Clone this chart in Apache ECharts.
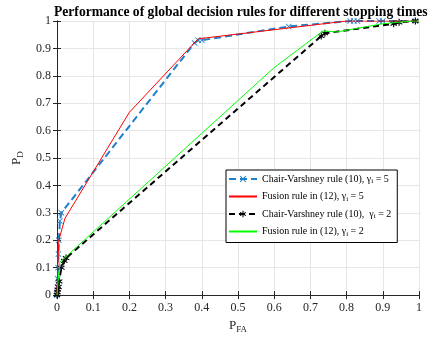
<!DOCTYPE html>
<html>
<head>
<meta charset="utf-8">
<script src="https://cdn.jsdelivr.net/npm/echarts@6/dist/echarts.min.js"></script>
<style>html,body{margin:0;padding:0;background:#fff}#c{width:430px;height:339px}</style>
</head>
<body>
<div id="c"></div>
<script>
var titleText = 'Performance of global decision rules for different stopping times';
var xTicks = [0, 0.1, 0.2, 0.3, 0.4, 0.5, 0.6, 0.7, 0.8, 0.9, 1];
var yTicks = [0, 0.1, 0.2, 0.3, 0.4, 0.5, 0.6, 0.7, 0.8, 0.9, 1];

// Chair-Varshney rule (10), gamma_i = 5
var cv5X = [0, 0.001, 0.002, 0.003, 0.004, 0.005, 0.008, 0.012, 0.38, 0.39, 0.4, 0.64, 0.81, 0.82, 0.83, 0.89, 0.9, 0.99];
var cv5Y = [0, 0.03, 0.06, 0.1, 0.15, 0.2, 0.27, 0.3, 0.92, 0.93, 0.93, 0.98, 1, 1, 1, 1, 1, 1];
// Fusion rule in (12), gamma_i = 5
var fu5X = [0, 0.002, 0.005, 0.022, 0.2, 0.39, 0.8, 1];
var fu5Y = [0, 0.1, 0.2, 0.28, 0.667, 0.935, 1, 1];
// Chair-Varshney rule (10), gamma_i = 2
var cv2X = [0, 0.001, 0.002, 0.004, 0.006, 0.012, 0.02, 0.025, 0.73, 0.74, 0.93, 0.945, 0.99];
var cv2Y = [0, 0.01, 0.02, 0.03, 0.05, 0.1, 0.125, 0.135, 0.945, 0.955, 0.99, 0.995, 1];
// Fusion rule in (12), gamma_i = 2
var fu2X = [0, 0.003, 0.008, 0.6, 0.735, 0.773, 0.9, 0.98, 1];
var fu2Y = [0, 0.05, 0.12, 0.83, 0.964, 0.96, 0.99, 1, 1];

var legendNames = [
  'Chair-Varshney rule (10), \u03b3_i = 5',
  'Fusion rule in (12), \u03b3_i = 5',
  'Chair-Varshney rule (10),  \u03b3_i = 2',
  'Fusion rule in (12), \u03b3_i = 2'
];

function pairs(xs, ys) { return xs.map(function (x, i) { return [x, ys[i]]; }); }

var xMark = 'path://M0,1L1,0L5,4L9,0L10,1L6,5L10,9L9,10L5,6L1,10L0,9L4,5Z';
var star = 'path://M4.3,0H5.7V3.3L8.6,1.6L9.3,2.8L6.4,4.5L9.3,6.2L8.6,7.4L5.7,5.7V9H4.3V5.7L1.4,7.4L0.7,6.2L3.6,4.5L0.7,2.8L1.4,1.6L4.3,3.3Z';

var serif = '"Liberation Serif", "DejaVu Serif", serif';
var txt = '#262626';

var chart = echarts.init(document.getElementById('c'), null, {renderer: 'canvas'});

function legendFmt(name) {
  var parts = name.split('_i');
  return '{a|' + parts[0] + '}{s|i}{a|' + parts[1] + '}';
}

var option = {
  animation: false,
  backgroundColor: '#fff',
  title: {
    text: titleText,
    left: 49,
    top: 0,
    textStyle: {fontFamily: serif, fontWeight: 'bold', fontSize: 13.6, color: '#000'}
  },
  grid: {left: 57, right: 11, top: 21, bottom: 43, containLabel: false},
  legend: {
    orient: 'vertical',
    left: 226,
    top: 170,
    width: 178,
    backgroundColor: '#fff',
    borderColor: '#000',
    borderWidth: 1,
    borderRadius: 0,
    padding: [4, 6, 5, 2],
    itemGap: 6.5,
    itemWidth: 28,
    itemHeight: 8,
    data: [
      {name: legendNames[0]},
      {name: legendNames[1], itemStyle: {opacity: 0}},
      {name: legendNames[2]},
      {name: legendNames[3], itemStyle: {opacity: 0}}
    ],
    formatter: legendFmt,
    textStyle: {
      fontFamily: serif, fontSize: 10, color: '#000',
      rich: {
        a: {fontFamily: serif, fontSize: 10, color: '#000'},
        s: {fontFamily: serif, fontSize: 7, color: '#000', padding: [5, 0, 0, 0]}
      }
    }
  },
  xAxis: [{
    type: 'value', min: 0, max: 1, interval: 0.1,
    name: '{a|P}{s|FA}', nameLocation: 'middle', nameGap: 18,
    nameTextStyle: {rich: {
      a: {fontFamily: serif, fontSize: 13, color: txt},
      s: {fontFamily: serif, fontSize: 9, color: txt, padding: [8, 0, 0, 0]}
    }},
    axisLine: {show: true, lineStyle: {color: txt, width: 1}},
    axisTick: {show: true, inside: true, length: 4, lineStyle: {color: txt}},
    axisLabel: {fontFamily: serif, fontSize: 12, color: txt, margin: 7,
      formatter: function (v) { return String(Math.round(v * 10) / 10); }},
    splitLine: {show: true, lineStyle: {color: '#e6e6e6', width: 1}}
  }, {
    type: 'value', min: 0, max: 1, interval: 0.1, position: 'top',
    axisLine: {show: true, lineStyle: {color: txt, width: 1}},
    axisTick: {show: true, inside: true, length: 4, lineStyle: {color: txt}},
    axisLabel: {show: false}, splitLine: {show: false}
  }],
  yAxis: [{
    type: 'value', min: 0, max: 1, interval: 0.1,
    name: '{a|P}{s|D}', nameLocation: 'middle', nameGap: 32, nameRotate: 90,
    nameTextStyle: {rich: {
      a: {fontFamily: serif, fontSize: 13, color: txt},
      s: {fontFamily: serif, fontSize: 9, color: txt, padding: [8, 0, 0, 0]}
    }},
    axisLine: {show: true, lineStyle: {color: txt, width: 1}},
    axisTick: {show: true, inside: true, length: 4, lineStyle: {color: txt}},
    axisLabel: {fontFamily: serif, fontSize: 12, color: txt, margin: 6,
      formatter: function (v) { return String(Math.round(v * 10) / 10); }},
    splitLine: {show: true, lineStyle: {color: '#e6e6e6', width: 1}}
  }, {
    type: 'value', min: 0, max: 1, interval: 0.1, position: 'right',
    axisLine: {show: true, lineStyle: {color: txt, width: 1}},
    axisTick: {show: true, inside: true, length: 4, lineStyle: {color: txt}},
    axisLabel: {show: false}, splitLine: {show: false}
  }],
  series: [{
    name: legendNames[0], type: 'line', data: pairs(cv5X, cv5Y),
    symbol: xMark, symbolSize: 6, showSymbol: true,
    lineStyle: {color: '#1f7fc8', width: 2, type: [7, 4]},
    itemStyle: {color: '#1f7fc8'},
    z: 3
  }, {
    name: legendNames[1], type: 'line', data: pairs(fu5X, fu5Y),
    symbol: 'none',
    lineStyle: {color: '#ff0000', width: 1},
    itemStyle: {color: '#ff0000'},
    z: 4
  }, {
    name: legendNames[2], type: 'line', data: pairs(cv2X, cv2Y),
    symbol: star, symbolSize: 7, showSymbol: true,
    lineStyle: {color: '#000000', width: 2, type: [6, 4]},
    itemStyle: {color: '#000000'},
    z: 3
  }, {
    name: legendNames[3], type: 'line', data: pairs(fu2X, fu2Y),
    symbol: 'none',
    lineStyle: {color: '#00ff00', width: 1},
    itemStyle: {color: '#00ff00'},
    z: 4
  }]
};
chart.setOption(option);
</script>
</body>
</html>
